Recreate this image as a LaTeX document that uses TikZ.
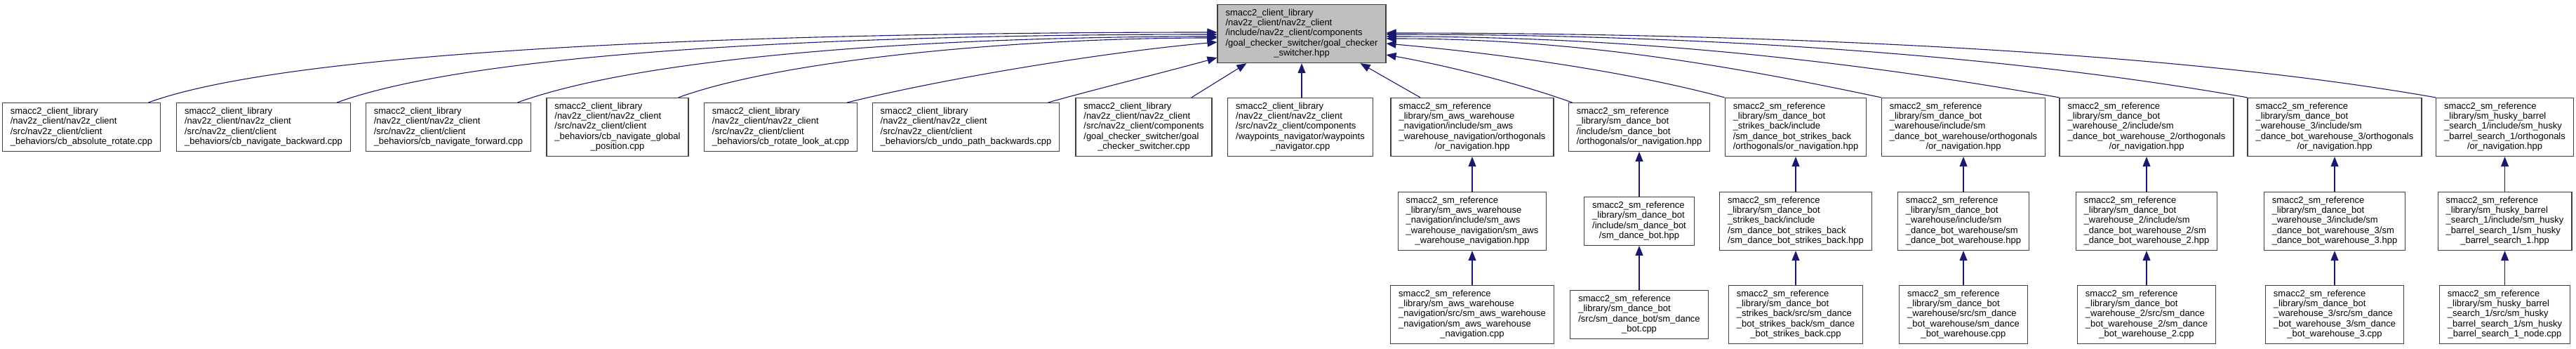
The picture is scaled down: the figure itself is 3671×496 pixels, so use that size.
\documentclass[tikz,border=0pt]{standalone}
\usepackage{fontspec}
\setmainfont{Liberation Sans}
\usetikzlibrary{arrows.meta,calc}
\definecolor{edgec}{HTML}{191970}
\definecolor{boxc}{HTML}{404040}
\definecolor{mainfill}{HTML}{BFBFBF}
\newcommand{\lbl}[2]{\begin{tabular}{@{}l@{}}#1\\\multicolumn{1}{@{}c@{}}{#2}\end{tabular}}
\tikzset{
  box/.style={draw=boxc, line width=1.3pt, fill=white, inner xsep=11.5pt, inner ysep=5.5pt,
    font=\fontsize{13}{14.4}\selectfont, text=black},
  mainbox/.style={box, fill=mainfill},
  edge/.style={draw=edgec, line width=1.1pt, -{Triangle[length=14pt,width=11pt]}, fill=none}
}
\begin{document}
\begin{tikzpicture}[x=1pt,y=1pt]
\useasboundingbox (0,0) rectangle (3671,-496);
% ---- row 1
\node[box] (n1) at (116,-181) {\lbl{smacc2\_client\_library\\/nav2z\_client/nav2z\_client\\/src/nav2z\_client/client}{\_behaviors/cb\_absolute\_rotate.cpp}};
\node[box] (n2) at (375.5,-181) {\lbl{smacc2\_client\_library\\/nav2z\_client/nav2z\_client\\/src/nav2z\_client/client}{\_behaviors/cb\_navigate\_backward.cpp}};
\node[box] (n3) at (639,-181) {\lbl{smacc2\_client\_library\\/nav2z\_client/nav2z\_client\\/src/nav2z\_client/client}{\_behaviors/cb\_navigate\_forward.cpp}};
\node[box] (n4) at (880,-181) {\lbl{smacc2\_client\_library\\/nav2z\_client/nav2z\_client\\/src/nav2z\_client/client\\\_behaviors/cb\_navigate\_global}{\_position.cpp}};
\node[box] (n5) at (1112.5,-181) {\lbl{smacc2\_client\_library\\/nav2z\_client/nav2z\_client\\/src/nav2z\_client/client}{\_behaviors/cb\_rotate\_look\_at.cpp}};
\node[box] (n6) at (1376.5,-181) {\lbl{smacc2\_client\_library\\/nav2z\_client/nav2z\_client\\/src/nav2z\_client/client}{\_behaviors/cb\_undo\_path\_backwards.cpp}};
\node[box] (n7) at (1630,-181) {\lbl{smacc2\_client\_library\\/nav2z\_client/nav2z\_client\\/src/nav2z\_client/components\\/goal\_checker\_switcher/goal}{\_checker\_switcher.cpp}};
\node[box] (n8) at (1853,-181) {\lbl{smacc2\_client\_library\\/nav2z\_client/nav2z\_client\\/src/nav2z\_client/components\\/waypoints\_navigator/waypoints}{\_navigator.cpp}};
\node[box] (n9) at (2098,-181) {\lbl{smacc2\_sm\_reference\\\_library/sm\_aws\_warehouse\\\_navigation/include/sm\_aws\\\_warehouse\_navigation/orthogonals}{/or\_navigation.hpp}};
\node[box] (n10) at (2336,-181) {\lbl{smacc2\_sm\_reference\\\_library/sm\_dance\_bot\\/include/sm\_dance\_bot}{/orthogonals/or\_navigation.hpp}};
\node[box] (n11) at (2559,-181) {\lbl{smacc2\_sm\_reference\\\_library/sm\_dance\_bot\\\_strikes\_back/include\\/sm\_dance\_bot\_strikes\_back}{/orthogonals/or\_navigation.hpp}};
\node[box] (n12) at (2798,-181) {\lbl{smacc2\_sm\_reference\\\_library/sm\_dance\_bot\\\_warehouse/include/sm\\\_dance\_bot\_warehouse/orthogonals}{/or\_navigation.hpp}};
\node[box] (n13) at (3059,-181) {\lbl{smacc2\_sm\_reference\\\_library/sm\_dance\_bot\\\_warehouse\_2/include/sm\\\_dance\_bot\_warehouse\_2/orthogonals}{/or\_navigation.hpp}};
\node[box] (n14) at (3327,-181) {\lbl{smacc2\_sm\_reference\\\_library/sm\_dance\_bot\\\_warehouse\_3/include/sm\\\_dance\_bot\_warehouse\_3/orthogonals}{/or\_navigation.hpp}};
\node[box] (n15) at (3569.5,-181) {\lbl{smacc2\_sm\_reference\\\_library/sm\_husky\_barrel\\\_search\_1/include/sm\_husky\\\_barrel\_search\_1/orthogonals}{/or\_navigation.hpp}};
% ---- top
\node[mainbox] (top) at (1855,-48) {\lbl{smacc2\_client\_library\\/nav2z\_client/nav2z\_client\\/include/nav2z\_client/components\\/goal\_checker\_switcher/goal\_checker}{\_switcher.hpp}};
% ---- row 2
\node[box] (m9) at (n9 |- 0,-315) {\lbl{smacc2\_sm\_reference\\\_library/sm\_aws\_warehouse\\\_navigation/include/sm\_aws\\\_warehouse\_navigation/sm\_aws}{\_warehouse\_navigation.hpp}};
\node[box] (m10) at (n10 |- 0,-315) {\lbl{smacc2\_sm\_reference\\\_library/sm\_dance\_bot\\/include/sm\_dance\_bot}{/sm\_dance\_bot.hpp}};
\node[box] (m11) at (n11 |- 0,-315) {\lbl{smacc2\_sm\_reference\\\_library/sm\_dance\_bot\\\_strikes\_back/include\\/sm\_dance\_bot\_strikes\_back}{/sm\_dance\_bot\_strikes\_back.hpp}};
\node[box] (m12) at (n12 |- 0,-315) {\lbl{smacc2\_sm\_reference\\\_library/sm\_dance\_bot\\\_warehouse/include/sm\\\_dance\_bot\_warehouse/sm}{\_dance\_bot\_warehouse.hpp}};
\node[box] (m13) at (n13 |- 0,-315) {\lbl{smacc2\_sm\_reference\\\_library/sm\_dance\_bot\\\_warehouse\_2/include/sm\\\_dance\_bot\_warehouse\_2/sm}{\_dance\_bot\_warehouse\_2.hpp}};
\node[box] (m14) at (n14 |- 0,-315) {\lbl{smacc2\_sm\_reference\\\_library/sm\_dance\_bot\\\_warehouse\_3/include/sm\\\_dance\_bot\_warehouse\_3/sm}{\_dance\_bot\_warehouse\_3.hpp}};
\node[box] (m15) at (n15 |- 0,-315) {\lbl{smacc2\_sm\_reference\\\_library/sm\_husky\_barrel\\\_search\_1/include/sm\_husky\\\_barrel\_search\_1/sm\_husky}{\_barrel\_search\_1.hpp}};
% ---- row 3
\node[box] (b9) at (n9 |- 0,-448) {\lbl{smacc2\_sm\_reference\\\_library/sm\_aws\_warehouse\\\_navigation/src/sm\_aws\_warehouse\\\_navigation/sm\_aws\_warehouse}{\_navigation.cpp}};
\node[box] (b10) at (n10 |- 0,-448) {\lbl{smacc2\_sm\_reference\\\_library/sm\_dance\_bot\\/src/sm\_dance\_bot/sm\_dance}{\_bot.cpp}};
\node[box] (b11) at (n11 |- 0,-448) {\lbl{smacc2\_sm\_reference\\\_library/sm\_dance\_bot\\\_strikes\_back/src/sm\_dance\\\_bot\_strikes\_back/sm\_dance}{\_bot\_strikes\_back.cpp}};
\node[box] (b12) at (n12 |- 0,-448) {\lbl{smacc2\_sm\_reference\\\_library/sm\_dance\_bot\\\_warehouse/src/sm\_dance\\\_bot\_warehouse/sm\_dance}{\_bot\_warehouse.cpp}};
\node[box] (b13) at (n13 |- 0,-448) {\lbl{smacc2\_sm\_reference\\\_library/sm\_dance\_bot\\\_warehouse\_2/src/sm\_dance\\\_bot\_warehouse\_2/sm\_dance}{\_bot\_warehouse\_2.cpp}};
\node[box] (b14) at (n14 |- 0,-448) {\lbl{smacc2\_sm\_reference\\\_library/sm\_dance\_bot\\\_warehouse\_3/src/sm\_dance\\\_bot\_warehouse\_3/sm\_dance}{\_bot\_warehouse\_3.cpp}};
\node[box] (b15) at (n15 |- 0,-448) {\lbl{smacc2\_sm\_reference\\\_library/sm\_husky\_barrel\\\_search\_1/src/sm\_husky\\\_barrel\_search\_1/sm\_husky}{\_barrel\_search\_1\_node.cpp}};
% ---- vertical edges
\foreach \i in {9,...,15} {
  \draw[edge] (m\i) -- (n\i);
  \draw[edge] (b\i) -- (m\i);
}
% ---- edges into the top node
\draw[edge] ($(n1.north east)+(-18,0)$) .. controls +(20:250) and +(180:500) .. ($(top.west)+(0,2)$);
\draw[edge] ($(n2.north east)+(-20,0)$) .. controls +(20:230) and +(180:450) .. ($(top.west)+(0,-1)$);
\draw[edge] ($(n3.north east)+(-20,0)$) .. controls +(20:200) and +(180:380) .. ($(top.west)+(0,-4)$);
\draw[edge] ($(n4.north east)+(-15,0)$) .. controls +(20:160) and +(180:280) .. ($(top.west)+(0,-6)$);
\draw[edge] ($(n5.north east)+(-15,0)$) .. controls +(14:150) and +(185:150) .. ($(top.west)+(0,-12)$);
\draw[edge] ($(n6.north east)+(-17,0)$) .. controls +(16:60) and +(196:60) .. ($(top.west)+(0,-34)$);
\draw[edge] (n7) -- ($(top.south west)+(42,0)$);
\draw[edge] (n8.north -| top) -- (top.south);
\draw[edge] (n9) -- ($(top.south east)+(-37,0)$);
\draw[edge] ($(n10.north west)+(6,0)$) .. controls +(160:80) and +(350:80) .. ($(top.east)+(0,-30)$);
\draw[edge] (n11.north west) .. controls +(165:150) and +(355:150) .. ($(top.east)+(0,-14)$);
\draw[edge] (n12.north west) .. controls +(168:250) and +(0:250) .. ($(top.east)+(0,-7)$);
\draw[edge] (n13.north west) .. controls +(170:300) and +(0:350) .. ($(top.east)+(0,-4)$);
\draw[edge] (n14.north west) .. controls +(170:350) and +(0:450) .. ($(top.east)+(0,-1)$);
\draw[edge] (n15.north west) .. controls +(170:400) and +(0:500) .. ($(top.east)+(0,1)$);
\end{tikzpicture}
\end{document}
